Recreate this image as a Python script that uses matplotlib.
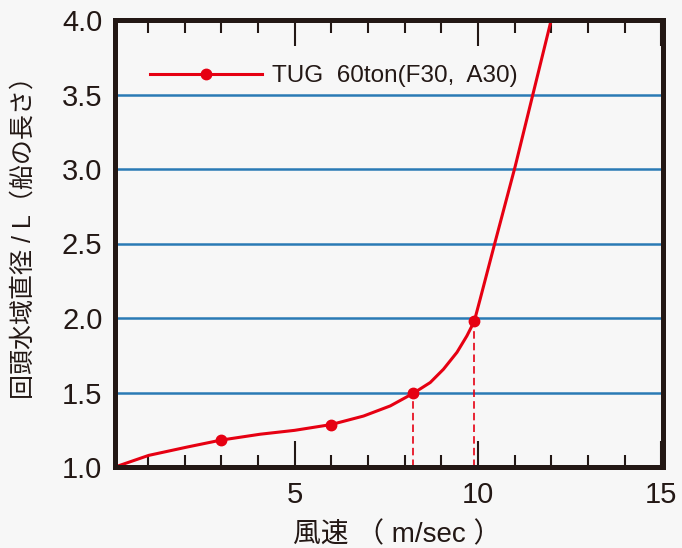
import numpy as np
import matplotlib
matplotlib.use("Agg")
import matplotlib.pyplot as plt
from matplotlib.ticker import MultipleLocator, FixedLocator

# curve (wind speed m/s, diameter / L)
curve_x = [0.1, 1.02, 2.07, 2.98, 4.06, 5.0, 6.0, 6.88, 7.61, 8.24, 8.70, 9.06,
           9.43, 9.70, 9.90, 10.06, 10.47, 11.02, 11.52, 12.0]
curve_y = [1.0, 1.078, 1.134, 1.18, 1.22, 1.246, 1.285, 1.342, 1.41, 1.495, 1.567, 1.656,
           1.77, 1.88, 1.977, 2.125, 2.51, 3.02, 3.52, 4.0]

marker_x = [2.98, 6.0, 8.24, 9.9]
marker_y = [1.18, 1.285, 1.495, 1.977]

dashed_x = [8.24, 9.9]
dashed_y = [1.495, 1.977]

grid_levels = [1.5, 2.0, 2.5, 3.0, 3.5]
y_ticks = [1.0, 1.5, 2.0, 2.5, 3.0, 3.5, 4.0]
x_ticks = [5, 10, 15]

series_label = "TUG  60ton(F30,  A30)"
x_label = "風速 （ m/sec ）"
y_label = "回頭水域直径 / L（船の長さ）"

bg = "#f7f7f7"
dark = "#231815"
red = "#e60012"
blue = "#2a7ab5"

plt.rcParams["font.family"] = ["Liberation Sans", "Noto Sans CJK JP", "DejaVu Sans"]

fig = plt.figure(figsize=(6.82, 5.48), dpi=100, facecolor=bg)
ax = fig.add_axes([115 / 682, 1 - 467 / 548, 548 / 682, 447 / 548], facecolor=bg)

for level in grid_levels:
    ax.axhline(level, color=blue, lw=1.8, zorder=1)

for x, y in zip(dashed_x, dashed_y):
    ax.plot([x, x], [1.0, y], color=red, lw=1.2, ls=(0, (4.5, 2.5)), zorder=2)

ax.plot(curve_x, curve_y, color=red, lw=2.2, zorder=3,
        solid_capstyle="round", solid_joinstyle="round")
ax.plot(marker_x, marker_y, "o", color=red, ms=7.5, zorder=4)

# legend handle: line with one marker in the middle
ax.plot([], [], color=red, lw=2.2, marker="o", ms=7.5, label=series_label)
ax.legend(loc="center left", bbox_to_anchor=((150 - 115) / 548, (467 - 76) / 447),
          frameon=False, handlelength=4.6, handletextpad=0.4, borderpad=0,
          borderaxespad=0, numpoints=1,
          prop={"family": ["Liberation Sans"], "size": 17.5},
          labelcolor=dark)

ax.set_xlim(0.1, 15.05)
ax.set_ylim(1.0, 4.0)

ax.xaxis.set_major_locator(FixedLocator(x_ticks))
ax.xaxis.set_minor_locator(MultipleLocator(1))
ax.set_yticks(y_ticks)
ax.set_yticklabels([f"{v:.1f}" for v in y_ticks])

ax.tick_params(axis="x", which="major", direction="in", length=19, width=1.5,
               color=dark, top=True, bottom=True, labelsize=21, labelcolor=dark, pad=10)
ax.tick_params(axis="x", which="minor", direction="in", length=9, width=1.5,
               color=dark, top=True, bottom=True)
ax.tick_params(axis="y", which="both", length=0, labelsize=21, labelcolor=dark, pad=9)

for spine in ax.spines.values():
    spine.set_linewidth(3.6)
    spine.set_color(dark)
    spine.set_zorder(5)

fig.text(397 / 682, 1 - 535 / 548, x_label, ha="center", va="center",
         fontsize=20, color=dark)
fig.text(24 / 682, 1 - 232 / 548, y_label, ha="center", va="center", rotation=90,
         fontsize=18, color=dark)

fig.savefig("out.png", dpi=100, facecolor=bg)
